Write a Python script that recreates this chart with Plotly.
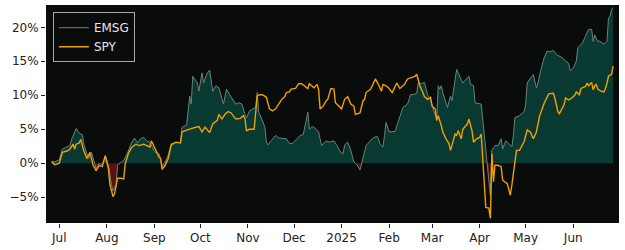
import numpy as np
import pandas as pd
import plotly.graph_objects as go

# ---- data (cumulative return, %) ----
emsg_dates = ["2024-06-26","2024-06-28","2024-07-01","2024-07-03","2024-07-05","2024-07-08","2024-07-09","2024-07-12","2024-07-14","2024-07-16",
"2024-07-17","2024-07-20","2024-07-22","2024-07-24","2024-07-25","2024-07-27","2024-07-29","2024-07-31","2024-08-02","2024-08-04",
"2024-08-05","2024-08-07","2024-08-08","2024-08-10","2024-08-12","2024-08-15","2024-08-17","2024-08-19","2024-08-21","2024-08-23",
"2024-08-25","2024-08-27","2024-08-29","2024-09-01","2024-09-04","2024-09-05","2024-09-06","2024-09-08","2024-09-10","2024-09-12",
"2024-09-16","2024-09-18","2024-09-19","2024-09-22","2024-09-24","2024-09-25","2024-09-26","2024-09-29","2024-09-30","2024-10-02",
"2024-10-03","2024-10-05","2024-10-07","2024-10-09","2024-10-11","2024-10-13","2024-10-16","2024-10-18","2024-10-20","2024-10-22",
"2024-10-24","2024-10-26","2024-10-28","2024-10-30","2024-10-31","2024-11-02","2024-11-05","2024-11-06","2024-11-07","2024-11-08",
"2024-11-10","2024-11-12","2024-11-13","2024-11-14","2024-11-16","2024-11-19","2024-11-21","2024-11-24","2024-11-26","2024-11-28",
"2024-11-30","2024-12-03","2024-12-05","2024-12-07","2024-12-09","2024-12-10","2024-12-11","2024-12-13","2024-12-15","2024-12-17",
"2024-12-19","2024-12-22","2024-12-24","2024-12-27","2024-12-29","2024-12-31","2025-01-02","2025-01-03","2025-01-05","2025-01-07",
"2025-01-09","2025-01-11","2025-01-13","2025-01-15","2025-01-17","2025-01-19","2025-01-21","2025-01-24","2025-01-25","2025-01-26",
"2025-01-28","2025-01-29","2025-01-30","2025-02-01","2025-02-03","2025-02-05","2025-02-06","2025-02-08","2025-02-10","2025-02-13",
"2025-02-15","2025-02-17","2025-02-19","2025-02-20","2025-02-22","2025-02-24","2025-02-26","2025-02-28","2025-03-02","2025-03-04",
"2025-03-05","2025-03-06","2025-03-07","2025-03-08","2025-03-10","2025-03-11","2025-03-13","2025-03-14","2025-03-16","2025-03-17",
"2025-03-18","2025-03-20","2025-03-21","2025-03-24","2025-03-25","2025-03-26","2025-03-28","2025-03-29","2025-03-31","2025-04-02",
"2025-04-03","2025-04-08","2025-04-09","2025-04-11","2025-04-13","2025-04-15","2025-04-16","2025-04-18","2025-04-20","2025-04-22",
"2025-04-23","2025-04-24","2025-04-27","2025-04-30","2025-05-01","2025-05-02","2025-05-05","2025-05-06","2025-05-08","2025-05-09",
"2025-05-11","2025-05-13","2025-05-15","2025-05-17","2025-05-19","2025-05-21","2025-05-25","2025-05-27","2025-05-29","2025-05-30",
"2025-06-01","2025-06-03","2025-06-04","2025-06-07","2025-06-09","2025-06-11","2025-06-13","2025-06-14","2025-06-15","2025-06-17",
"2025-06-18","2025-06-21","2025-06-23","2025-06-24","2025-06-25","2025-06-26","2025-06-27"]
emsg_vals = [0.3,0.2,0.5,2.1,2.3,2.6,3.5,5.1,4.4,4.2,
2.8,0.7,1.6,0.0,-0.8,0.0,-0.2,1.1,-0.3,-3.1,
-4.1,-3.1,-0.3,0.1,0.4,1.8,3.0,3.7,3.0,3.6,
3.8,3.3,3.1,1.7,1.4,0.7,-0.5,0.2,1.2,2.9,
3.1,3.1,5.3,5.6,9.9,8.7,12.8,11.8,10.6,13.3,
11.8,13.1,13.7,10.6,11.4,11.1,8.7,10.9,10.1,9.4,
8.7,8.9,8.7,7.2,6.7,7.7,8.0,8.2,10.4,7.5,
6.5,5.3,3.1,2.7,3.3,4.1,3.7,3.7,3.6,2.9,
2.9,3.6,4.1,4.2,6.3,7.5,5.0,5.4,5.1,4.6,
2.6,3.3,3.1,3.3,2.6,1.7,1.4,2.7,3.1,1.9,
0.2,-0.2,-1.0,0.9,2.6,3.1,3.6,4.0,3.6,2.9,
2.4,4.1,6.0,4.6,4.6,4.7,5.5,6.7,8.2,8.7,
10.1,10.1,10.3,11.8,11.7,11.9,10.1,9.4,7.7,6.5,
11.4,10.9,11.4,10.4,8.7,8.2,9.9,9.2,12.3,13.8,
13.3,12.3,11.8,12.6,12.8,11.6,11.4,8.9,8.8,8.7,
6.5,-4.8,1.9,2.6,2.6,3.6,2.1,3.3,2.9,2.4,
4.1,6.7,7.0,7.6,8.6,11.8,12.8,13.0,11.1,11.8,
13.8,15.5,16.5,16.4,16.6,16.0,15.5,15.0,14.7,13.6,
14.0,15.0,17.0,17.7,18.7,19.7,19.7,17.9,18.9,17.9,
18.0,17.5,17.9,21.4,21.6,22.6,22.9]

spy_dates = ["2024-06-26","2024-06-28","2024-07-01","2024-07-03","2024-07-06","2024-07-08","2024-07-10","2024-07-11","2024-07-12","2024-07-14",
"2024-07-15","2024-07-17","2024-07-19","2024-07-21","2024-07-23","2024-07-25","2024-07-27","2024-07-29","2024-07-31","2024-08-02",
"2024-08-03","2024-08-05","2024-08-06","2024-08-08","2024-08-10","2024-08-12","2024-08-13","2024-08-15","2024-08-17","2024-08-20",
"2024-08-22","2024-08-25","2024-08-27","2024-08-29","2024-08-30","2024-09-01","2024-09-04","2024-09-05","2024-09-06","2024-09-08",
"2024-09-10","2024-09-12","2024-09-15","2024-09-18","2024-09-19","2024-09-21","2024-09-23","2024-09-25","2024-09-28","2024-09-30",
"2024-10-02","2024-10-04","2024-10-07","2024-10-09","2024-10-12","2024-10-13","2024-10-15","2024-10-17","2024-10-19","2024-10-21",
"2024-10-24","2024-10-27","2024-10-29","2024-10-30","2024-10-31","2024-11-02","2024-11-05","2024-11-06","2024-11-07","2024-11-09",
"2024-11-11","2024-11-13","2024-11-15","2024-11-17","2024-11-19","2024-11-21","2024-11-23","2024-11-25","2024-11-26","2024-11-28",
"2024-11-29","2024-12-02","2024-12-04","2024-12-06","2024-12-08","2024-12-10","2024-12-11","2024-12-14","2024-12-16","2024-12-17",
"2024-12-18","2024-12-20","2024-12-22","2024-12-23","2024-12-25","2024-12-27","2024-12-28","2024-12-30","2025-01-01","2025-01-03",
"2025-01-05","2025-01-07","2025-01-09","2025-01-10","2025-01-13","2025-01-15","2025-01-16","2025-01-17","2025-01-20","2025-01-21",
"2025-01-23","2025-01-25","2025-01-27","2025-01-28","2025-01-30","2025-02-01","2025-02-03","2025-02-06","2025-02-08","2025-02-10",
"2025-02-11","2025-02-13","2025-02-16","2025-02-18","2025-02-19","2025-02-21","2025-02-23","2025-02-24","2025-02-26","2025-02-28",
"2025-03-01","2025-03-03","2025-03-04","2025-03-05","2025-03-07","2025-03-08","2025-03-10","2025-03-12","2025-03-13","2025-03-15",
"2025-03-16","2025-03-17","2025-03-18","2025-03-20","2025-03-21","2025-03-24","2025-03-25","2025-03-27","2025-03-28","2025-03-30",
"2025-04-01","2025-04-02","2025-04-05","2025-04-07","2025-04-08","2025-04-09","2025-04-10","2025-04-11","2025-04-13","2025-04-15",
"2025-04-16","2025-04-19","2025-04-21","2025-04-22","2025-04-24","2025-04-25","2025-04-27","2025-04-30","2025-05-02","2025-05-04",
"2025-05-06","2025-05-08","2025-05-10","2025-05-13","2025-05-16","2025-05-19","2025-05-20","2025-05-22","2025-05-23","2025-05-26",
"2025-05-27","2025-05-29","2025-05-31","2025-06-02","2025-06-03","2025-06-05","2025-06-06","2025-06-09","2025-06-10","2025-06-11",
"2025-06-13","2025-06-14","2025-06-15","2025-06-16","2025-06-17","2025-06-19","2025-06-21","2025-06-22","2025-06-23","2025-06-24",
"2025-06-26","2025-06-27"]
spy_vals = [0.2,-0.2,0.0,1.6,1.8,2.1,2.8,2.1,2.8,3.0,
3.5,1.8,0.7,1.6,-0.3,-1.1,-0.3,-0.5,1.1,-0.8,
-3.1,-4.9,-4.5,-2.2,-2.2,-2.3,0.0,1.4,2.3,2.8,
2.6,2.8,2.6,2.4,3.3,2.4,0.9,0.7,-0.9,-0.3,
0.7,2.7,3.1,3.0,4.6,4.8,5.0,5.1,5.3,5.4,
4.6,5.3,4.5,5.8,6.3,7.2,6.5,7.2,7.6,7.4,
6.5,6.6,7.0,6.6,4.8,5.0,5.0,7.7,9.9,10.1,
10.0,9.7,8.0,7.7,8.0,8.7,9.4,9.8,10.4,10.5,
10.9,11.0,11.7,11.7,11.4,11.0,11.7,11.1,11.6,10.9,
8.0,8.4,9.2,9.4,11.0,10.9,8.9,8.4,8.0,9.4,
9.8,8.7,8.4,7.2,7.4,9.2,9.4,10.4,10.9,11.4,
12.4,11.6,10.6,11.6,11.4,11.0,10.4,11.8,11.0,11.4,
11.6,12.4,12.7,12.8,13.1,11.4,10.4,9.8,9.4,9.7,
8.4,8.0,6.3,7.0,5.5,4.6,3.6,2.9,1.9,3.6,
4.3,4.1,4.8,3.6,5.0,5.8,6.5,4.8,3.1,3.6,
3.8,4.3,-6.5,-6.6,-8.1,1.4,-2.7,-0.3,-0.3,-0.5,
-2.5,-3.0,-4.7,-3.2,0.6,1.9,1.9,3.2,4.9,4.6,
3.6,4.6,6.9,8.8,10.2,10.3,9.6,7.6,7.3,8.6,
9.6,9.3,9.6,10.0,10.5,10.1,11.0,11.3,11.8,11.4,
11.9,10.8,11.4,11.6,10.9,10.6,10.5,11.0,11.8,12.8,
13.1,14.3]

month_ticks = ["2024-07-01","2024-08-01","2024-09-01","2024-10-01","2024-11-01","2024-12-01",
               "2025-01-01","2025-02-01","2025-03-01","2025-04-01","2025-05-01","2025-06-01"]
month_labels = ["Jul","Aug","Sep","Oct","Nov","Dec","2025","Feb","Mar","Apr","May","Jun"]
y_ticks = [-5, 0, 5, 10, 15, 20]
y_labels = ["\u22125%", "0%", "5%", "10%", "15%", "20%"]

# ---- split EMSG area at zero crossings (like fill_between interpolate=True) ----
t = pd.to_datetime(pd.Series(emsg_dates)).astype("int64").to_numpy().astype(float)
v = np.array(emsg_vals, dtype=float)
ax_t, ax_v = [t[0]], [v[0]]
for i in range(1, len(v)):
    if v[i - 1] * v[i] < 0:
        tc = t[i - 1] + (t[i] - t[i - 1]) * (-v[i - 1]) / (v[i] - v[i - 1])
        ax_t.append(tc)
        ax_v.append(0.0)
    ax_t.append(t[i])
    ax_v.append(v[i])
ax_t = pd.to_datetime(np.array(ax_t).astype("int64"))
ax_v = np.array(ax_v)
pos = np.maximum(ax_v, 0)
neg = np.minimum(ax_v, 0)

FONT = "DejaVu Sans"
fig = go.Figure()
fig.add_trace(go.Scatter(x=ax_t, y=pos, mode="lines", line=dict(width=0),
                         fill="tozeroy", fillcolor="#083a32", showlegend=False, hoverinfo="skip"))
fig.add_trace(go.Scatter(x=ax_t, y=neg, mode="lines", line=dict(width=0),
                         fill="tozeroy", fillcolor="#5c1010", showlegend=False, hoverinfo="skip"))
fig.add_trace(go.Scatter(x=pd.to_datetime(emsg_dates), y=emsg_vals, mode="lines", name="EMSG",
                         line=dict(color="#6c807d", width=1)))
fig.add_trace(go.Scatter(x=pd.to_datetime(spy_dates), y=spy_vals, mode="lines", name="SPY",
                         line=dict(color="#f0a000", width=1.4)))

fig.update_layout(
    width=625, height=250,
    margin=dict(l=46, r=6, t=5, b=25),
    paper_bgcolor="white", plot_bgcolor="#0a0b0b",
    font=dict(family=FONT, size=12, color="#222222"),
    legend=dict(x=0.012, y=0.967, xanchor="left", yanchor="top",
                bgcolor="#0a0b0b", bordercolor="#a8a8a8", borderwidth=1,
                font=dict(family=FONT, size=12, color="#e6e6e6"),
                itemwidth=30, tracegroupgap=0),
)
fig.update_xaxes(type="date", range=["2024-06-22 08:00", "2025-06-30 20:00"],
                 tickvals=month_ticks, ticktext=month_labels,
                 ticks="outside", ticklen=4, tickcolor="#222", showgrid=False, zeroline=False,
                 tickfont=dict(family=FONT, size=12, color="#222222"))
fig.update_yaxes(range=[-8.79, 23.28], tickvals=y_ticks, ticktext=y_labels,
                 ticks="outside", ticklen=4, tickcolor="#222", showgrid=False, zeroline=False,
                 tickfont=dict(family=FONT, size=12, color="#222222"))

fig.write_html("out.html")
